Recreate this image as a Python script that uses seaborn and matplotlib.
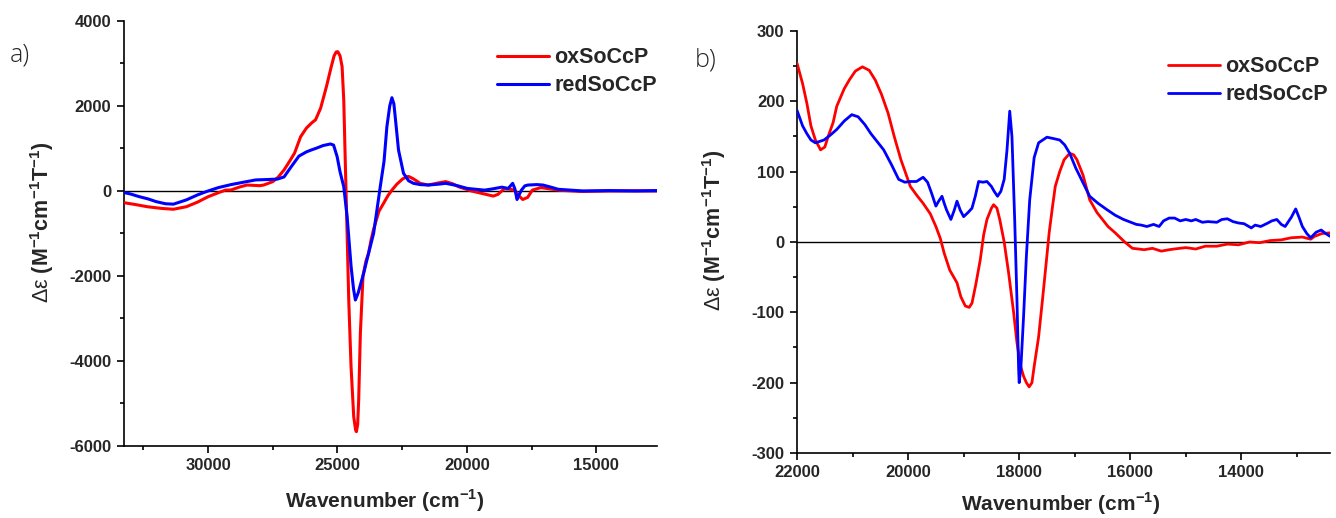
import numpy as np
import pandas as pd
import matplotlib
matplotlib.use("Agg")
import matplotlib.pyplot as plt
from matplotlib.ticker import MultipleLocator
import seaborn as sns

# ---------------- data ----------------
# panel a) full range
a_ox_x = [33300, 32800, 32350, 31800, 31340, 30840, 30400, 30000, 29600, 29330, 29115, 28800,
          28500, 28000, 27846, 27500, 27300, 27065, 26860, 26660, 26423, 26200, 26000, 25846,
          25650, 25420, 25250, 25130, 25050, 24988, 24900, 24821, 24757, 24693, 24628, 24564,
          24475, 24372, 24300, 24269, 24220, 24180, 24115, 24013, 23900, 23800, 23700, 23603,
          23400, 23218, 23050, 22910, 22705, 22490, 22320, 22240, 22050, 21900, 21808, 21490,
          21100, 20820, 20550, 20320, 19820, 19400, 18980, 18800, 18560, 18300, 18140, 17980,
          17840, 17650, 17470, 17140, 16800, 16470, 15640, 14500, 13500, 12650]
a_ox_y = [-270, -320, -370, -410, -430, -370, -260, -135, -40, 20, 24, 90,
          140, 125, 141, 220, 320, 494, 690, 890, 1278, 1480, 1600, 1676,
          1950, 2470, 2900, 3180, 3270, 3278, 3180, 2925, 2141, 572, -996, -2565,
          -4133, -5310, -5620, -5663, -5500, -4918, -3345, -2000, -1650, -1470, -1150, -900,
          -480, -290, -110, 10, 160, 280, 337, 340, 280, 220, 180, 140,
          190, 220, 170, 100, 0, -60, -120, -80, 50, 40, 10, -120,
          -200, -150, 20, 80, 50, 20, -10, 0, 5, 0]
a_red_x = [33300, 33000, 32680, 32300, 32010, 31650, 31340, 30840, 30400, 30000, 29600, 29115,
           28600, 28160, 27700, 27320, 27065, 26800, 26490, 26200, 25990, 25846, 25550, 25270,
           25150, 25013, 24900, 24757, 24627, 24473, 24380, 24308, 24200, 23987, 23800, 23603,
           23346, 23200, 23090, 22980, 22896, 22820, 22769, 22641, 22448, 22250, 22064, 21800,
           21490, 21100, 20820, 20400, 19980, 19650, 19320, 19000, 18650, 18400, 18230, 18150,
           18060, 17990, 17890, 17760, 17640, 17300, 17060, 16750, 16470, 15500, 14500, 13500,
           12650]
a_red_y = [-30, -70, -130, -190, -250, -300, -310, -210, -90, 0, 80, 150,
           210, 260, 270, 280, 330, 560, 820, 920, 970, 1000, 1070, 1106,
           1080, 808, 450, 102, -604, -1780, -2300, -2565, -2400, -1933, -1470, -996,
           102, 700, 1513, 2000, 2195, 2050, 1749, 965, 416, 240, 180, 150,
           140, 160, 180, 130, 60, 40, 20, 50, 90, 60, 180, 60,
           -200, -100, 20, 120, 140, 150, 140, 90, 40, 0, 10, 0,
           10]

# panel b) zoom
b_ox_x = [22000, 21900, 21823, 21750, 21670, 21577, 21500, 21440, 21350, 21285, 21150, 21054,
          20950, 20823, 20700, 20590, 20480, 20360, 20250, 20130, 19960, 19850, 19730, 19600,
          19500, 19420, 19350, 19250, 19120, 19050, 18970, 18900, 18850, 18780, 18700, 18640,
          18580, 18500, 18460, 18400, 18350, 18270, 18190, 18100, 18040, 17980, 17920, 17870,
          17820, 17770, 17730, 17650, 17580, 17520, 17460, 17400, 17350, 17270, 17190, 17090,
          17020, 16960, 16850, 16730, 16600, 16500, 16400, 16270, 16100, 15960, 15850, 15750,
          15600, 15440, 15300, 15210, 15000, 14820, 14650, 14440, 14250, 14050, 13850, 13670,
          13480, 13280, 13100, 12900, 12750, 12680, 12550, 12400]
b_ox_y = [254, 225, 197, 165, 145, 131, 135, 150, 170, 193, 218, 231,
          243, 249, 244, 230, 210, 183, 150, 117, 79, 67, 55, 40,
          22, 5, -16, -40, -58, -78, -91, -93, -87, -60, -25, 10,
          32, 48, 53, 48, 32, 0, -44, -100, -143, -175, -191, -200,
          -206, -200, -177, -135, -82, -35, 13, 50, 79, 100, 117, 126,
          124, 117, 95, 60, 42, 32, 22, 13, 0, -9, -10, -11,
          -9, -13, -11, -10, -8, -10, -6, -6, -3, -4, 0, -1,
          2, 3, 6, 7, 4, 8, 12, 13]
b_red_x = [22000, 21900, 21823, 21750, 21670, 21515, 21400, 21285, 21150, 21015, 20900, 20780,
           20670, 20550, 20440, 20300, 20170, 20060, 19960, 19850, 19730, 19650, 19580, 19500,
           19450, 19390, 19350, 19310, 19230, 19170, 19120, 19060, 19000, 18920, 18850, 18790,
           18730, 18650, 18580, 18500, 18450, 18390, 18330, 18270, 18220, 18170, 18130, 18080,
           18040, 18010, 18000, 17970, 17920, 17870, 17810, 17730, 17650, 17500, 17380, 17270,
           17180, 17090, 16980, 16880, 16730, 16580, 16420, 16270, 16120, 15890, 15800, 15700,
           15580, 15480, 15400, 15300, 15200, 15100, 15000, 14900, 14820, 14700, 14600, 14440,
           14350, 14250, 14150, 14050, 13950, 13820, 13750, 13650, 13520, 13450, 13360, 13280,
           13210, 13100, 13020, 12960, 12900, 12820, 12750, 12650, 12560, 12480, 12400]
b_red_y = [187, 165, 154, 145, 141, 145, 152, 160, 172, 181, 178, 167,
           154, 142, 131, 110, 89, 85, 86, 86, 92, 85, 70, 51,
           58, 65, 55, 46, 32, 45, 58, 45, 36, 42, 48, 65,
           86, 85, 86, 79, 72, 65, 72, 89, 130, 186, 150, 30,
           -82, -180, -200, -180, -105, -20, 60, 120, 141, 149, 147, 145,
           138, 126, 105, 89, 65, 55, 46, 38, 32, 25, 24, 22,
           25, 22, 30, 34, 34, 30, 32, 30, 32, 28, 29, 28,
           32, 33, 29, 27, 26, 20, 24, 22, 27, 30, 32, 25,
           22, 35, 47, 35, 22, 12, 6, 14, 17, 12, 8]

labels = ["oxSoCcP", "redSoCcP"]
colors = ["#ff0000", "#0000ff"]

# ---------------- style ----------------
sns.set_theme(style="ticks")
plt.rcParams["font.family"] = ["Liberation Sans", "DejaVu Sans"]
plt.rcParams["font.weight"] = "bold"
plt.rcParams["mathtext.fontset"] = "custom"
plt.rcParams["mathtext.rm"] = "Liberation Sans"
plt.rcParams["mathtext.bf"] = "Liberation Sans:bold"
plt.rcParams["axes.unicode_minus"] = False

fig = plt.figure(figsize=(13.36, 5.18), dpi=100)
fig.patch.set_facecolor("white")
ax_a = fig.add_axes([0.0928, 0.139, 0.399, 0.8205])
ax_b = fig.add_axes([0.5966, 0.1255, 0.399, 0.8147])


def draw(ax, xs, ys, lw):
    for x, y, lab, c in zip(xs, ys, labels, colors):
        df = pd.DataFrame({"w": x, "d": y})
        sns.lineplot(data=df, x="w", y="d", ax=ax, color=c, lw=lw, label=lab,
                     estimator=None, zorder=3)
    ax.axhline(0, color="black", lw=1.0, zorder=2)


draw(ax_a, [a_ox_x, a_red_x], [a_ox_y, a_red_y], 2.2)
draw(ax_b, [b_ox_x, b_red_x], [b_ox_y, b_red_y], 2.0)

ax_a.set_xlim(33250, 12650)
ax_a.set_ylim(-6000, 4000)
ax_a.xaxis.set_major_locator(MultipleLocator(5000))
ax_a.xaxis.set_minor_locator(MultipleLocator(2500))
ax_a.yaxis.set_major_locator(MultipleLocator(2000))
ax_a.yaxis.set_minor_locator(MultipleLocator(1000))

ax_b.set_xlim(22000, 12400)
ax_b.set_ylim(-300, 300)
ax_b.xaxis.set_major_locator(MultipleLocator(2000))
ax_b.xaxis.set_minor_locator(MultipleLocator(1000))
ax_b.yaxis.set_major_locator(MultipleLocator(100))
ax_b.yaxis.set_minor_locator(MultipleLocator(50))

ylab = "Δε " + r"$\mathbf{(M^{-1}cm^{-1}T^{-1})}$"
xlab = "Wavenumber (cm" + r"$^{\mathbf{-1}}$" + ")"

for ax, lx, ly, yx, lgx, lgy in [(ax_a, 0.49, -0.097, -0.128, 0.70, 0.938),
                                  (ax_b, 0.495, -0.088, -0.130, 0.696, 0.94)]:
    for s in ["top", "right"]:
        ax.spines[s].set_visible(False)
    for s in ["left", "bottom"]:
        ax.spines[s].set_linewidth(1.2)
        ax.spines[s].set_color("black")
    ax.tick_params(which="major", direction="out", length=5, width=1.2,
                   labelsize=12, color="black", pad=4)
    ax.tick_params(which="minor", direction="out", length=3, width=1.2, color="black")
    for t in ax.get_xticklabels() + ax.get_yticklabels():
        t.set_fontweight("bold")
    ax.set_xlabel(xlab, fontsize=15, fontweight="bold")
    ax.set_ylabel(ylab, fontsize=15.5, fontweight="normal")
    ax.xaxis.set_label_coords(lx, ly)
    ax.yaxis.set_label_coords(yx, 0.527)
    ax.set_facecolor("white")
    leg = ax.legend(loc="upper left", bbox_to_anchor=(lgx, lgy), frameon=False,
                    fontsize=15.5, handlelength=2.4, handletextpad=0.25,
                    labelspacing=0.32, borderpad=0, borderaxespad=0)
    for t in leg.get_texts():
        t.set_fontweight("bold")

fig.text(0.0075, 0.894, "a)", fontsize=18, fontweight="light",
         family=["Open Sans", "DejaVu Sans"], ha="left", va="center")
fig.text(0.520, 0.884, "b)", fontsize=18, fontweight="light",
         family=["Open Sans", "DejaVu Sans"], ha="left", va="center")

fig.savefig("out.png", dpi=100, facecolor="white")
